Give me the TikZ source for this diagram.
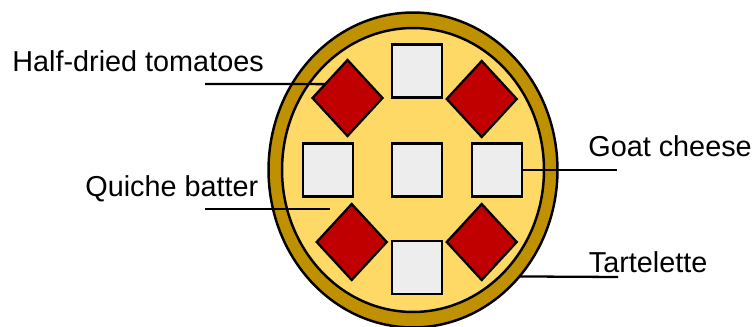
\documentclass[tikz,border=0pt]{standalone}
\usepackage{fontspec}
\setmainfont{Liberation Sans}
\usepackage{tikz}
\usetikzlibrary{shapes.geometric}
\definecolor{tartcrust}{RGB}{191,144,0}
\definecolor{tartbatter}{RGB}{255,217,102}
\definecolor{tartred}{RGB}{192,0,0}
\definecolor{tartcheese}{RGB}{237,237,237}

\begin{document}
\begin{tikzpicture}[x=0.02cm, y=-0.02cm,
      crust/.style={ellipse, draw=black, fill=tartcrust, line width=1.4pt, inner sep=0pt, outer sep=0pt, minimum width=5.78cm, minimum height=6.3cm},
      batter/.style={ellipse, draw=black, fill=tartbatter, line width=1.4pt, inner sep=0pt, outer sep=0pt, minimum width=5.24cm, minimum height=5.68cm},
      cheese/.style={rectangle, draw=black, fill=tartcheese, line width=1.3pt, inner sep=0pt, outer sep=0pt, minimum width=1cm, minimum height=1.06cm},
      tomato/.style={diamond, draw=black, fill=tartred, line width=1.3pt, inner sep=0pt, outer sep=0pt, minimum width=1.4cm, minimum height=1.52cm},
      txt/.style={anchor=base west, inner sep=0pt, font=\fontsize{16.4}{19}\selectfont},
      lead/.style={line width=1.3pt}
    ]
      \useasboundingbox (0,0) rectangle (753,327);

      \node[crust] (crust) at (413,170) {};
      \node[batter] (batter) at (413,170) {};

      \node[cheese] (q0) at (417,71) {};
      \node[cheese] (q1) at (328,170) {};
      \node[cheese] (q2) at (417,170) {};
      \node[cheese] (q3) at (497,170) {};
      \node[cheese] (q4) at (417,267.5) {};

      \node[tomato] (t0) at (347.5,98) {};
      \node[tomato] (t1) at (481.7,99) {};
      \node[tomato] (t2) at (351.7,242) {};
      \node[tomato] (t3) at (481.7,242) {};

      \node[txt] (ltom) at (12,71.7) {Half-dried tomatoes};
      \node[txt] (lbat) at (85,197) {Quiche batter};
      \node[txt] (lgoat) at (588,156.7) {Goat cheese};
      \node[txt] (ltart) at (588.5,272.3) {Tartelette};

      \coordinate (tomend) at (205,84);
      \coordinate (batend) at (205,209);
      \coordinate (batpt) at (330,209);
      \coordinate (goatend) at (617,170);
      \coordinate (tartend) at (618,277);

      \draw[lead] (tomend) -- (t0.148);
      \draw[lead] (batend) -- (batpt);
      \draw[lead] (q3.east) -- (goatend);
      \draw[lead] (crust.-45) -- (tartend);
    \end{tikzpicture}
\end{document}
